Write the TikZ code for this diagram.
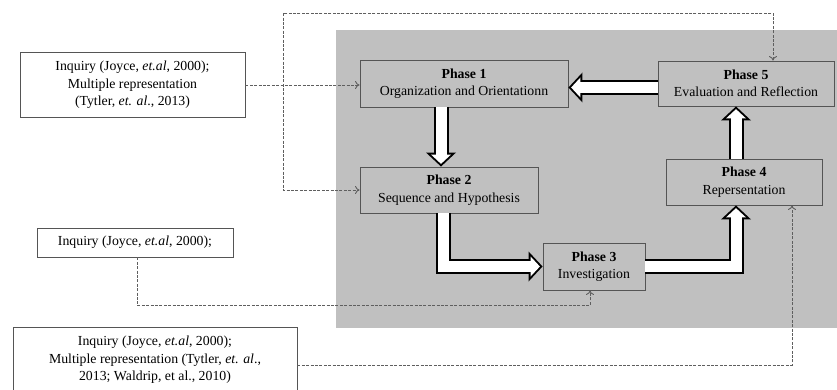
\documentclass[tikz,border=0pt]{standalone}
\usepackage{fontspec}
\setmainfont{Liberation Serif}
\usetikzlibrary{arrows.meta}

\definecolor{panelgrey}{RGB}{192,192,192}
\definecolor{edgegrey}{RGB}{85,85,85}
\definecolor{linegrey}{RGB}{95,95,95}

\tikzset{
  phase/.style={draw=edgegrey, fill=panelgrey, line width=0.9pt, align=center, inner sep=2pt},
  source/.style={draw=edgegrey, fill=white, line width=0.9pt, align=center, inner sep=2pt},
  thinarrow/.style={draw=linegrey, line width=0.9pt, dash pattern=on 3pt off 1.4pt, -{To[length=4.5pt,width=8pt]}},
  fatarrow/.style={draw=black, line width=15pt, line join=miter,
    -{Triangle[width=30pt,length=14pt,line width=0pt]},
    postaction={draw=white, line width=11pt, line join=miter, shorten >=2.7pt,
      -{Triangle[width=20pt,length=9.3pt,line width=0pt]}}}
}

\begin{document}
\begin{tikzpicture}[x=1pt, y=-1pt, font=\fontsize{13.8}{17.5}\selectfont]
\useasboundingbox (0,0) rectangle (837,390);

% background panel
\fill[panelgrey] (336,30) rectangle (837,328);

% nodes
\node (s1) [source, minimum width=225pt, minimum height=65pt] at (132.5,85) {Inquiry (Joyce, \textit{et.al}, 2000);\\Multiple representation\\(Tytler, \textit{et. al}., 2013)};
\node (s2) [source, minimum width=196pt, minimum height=29pt] at (135,242.5) {Inquiry (Joyce, \textit{et.al}, 2000);};
\node (s3) [source, minimum width=284pt, minimum height=66pt] at (155,360) {Inquiry (Joyce, \textit{et.al}, 2000);\\Multiple representation (Tytler, \textit{et. al}.,\\2013; Waldrip, et al., 2010)};

\node (p1) [phase, minimum width=208pt, minimum height=47pt] at (464,83.5) {\textbf{Phase 1}\\Organization and Orientationn};
\node (p2) [phase, minimum width=178pt, minimum height=46pt] at (449,190) {\textbf{Phase 2}\\Sequence and Hypothesis};
\node (p3) [phase, minimum width=102pt, minimum height=47pt] at (594,266.5) {\textbf{Phase 3}\\Investigation};
\node (p4) [phase, minimum width=156pt, minimum height=46pt] at (744,182) {\textbf{Phase 4}\\Repersentation};
\node (p5) [phase, minimum width=176pt, minimum height=45pt] at (746,83.5) {\textbf{Phase 5}\\Evaluation and Reflection};

\coordinate (top) at (283,13);

% thin arrows
\draw[thinarrow] (s1.east) -- (s1.east -| p1.west);
\draw[thinarrow, {To[length=4.5pt,width=8pt]}-{To[length=4.5pt,width=8pt]}] ([xshift=27pt]p5.north) |- (top) |- (p2.west);
\draw[thinarrow] ([xshift=2pt]s2.south) |- ([xshift=-4pt,yshift=-15pt]p3.south) -- ([xshift=-4pt]p3.south);
\draw[thinarrow] ([yshift=-5pt]s3.east) -| ([xshift=48pt]p4.south);

% fat arrows
\draw[fatarrow] ([yshift=-4pt]p5.west) -- ([yshift=-4pt]p1.east);
\draw[fatarrow] ([xshift=-23pt]p1.south) -- ([xshift=-23pt]p1.south |- p2.north);
\draw[fatarrow] ([xshift=-6pt]p2.south) |- (p3.west);
\draw[fatarrow] (p3.east) -| ([xshift=-8pt]p4.south);
\draw[fatarrow] ([xshift=-8pt]p4.north) -- ([xshift=-8pt]p4.north |- p5.south);
\end{tikzpicture}
\end{document}
